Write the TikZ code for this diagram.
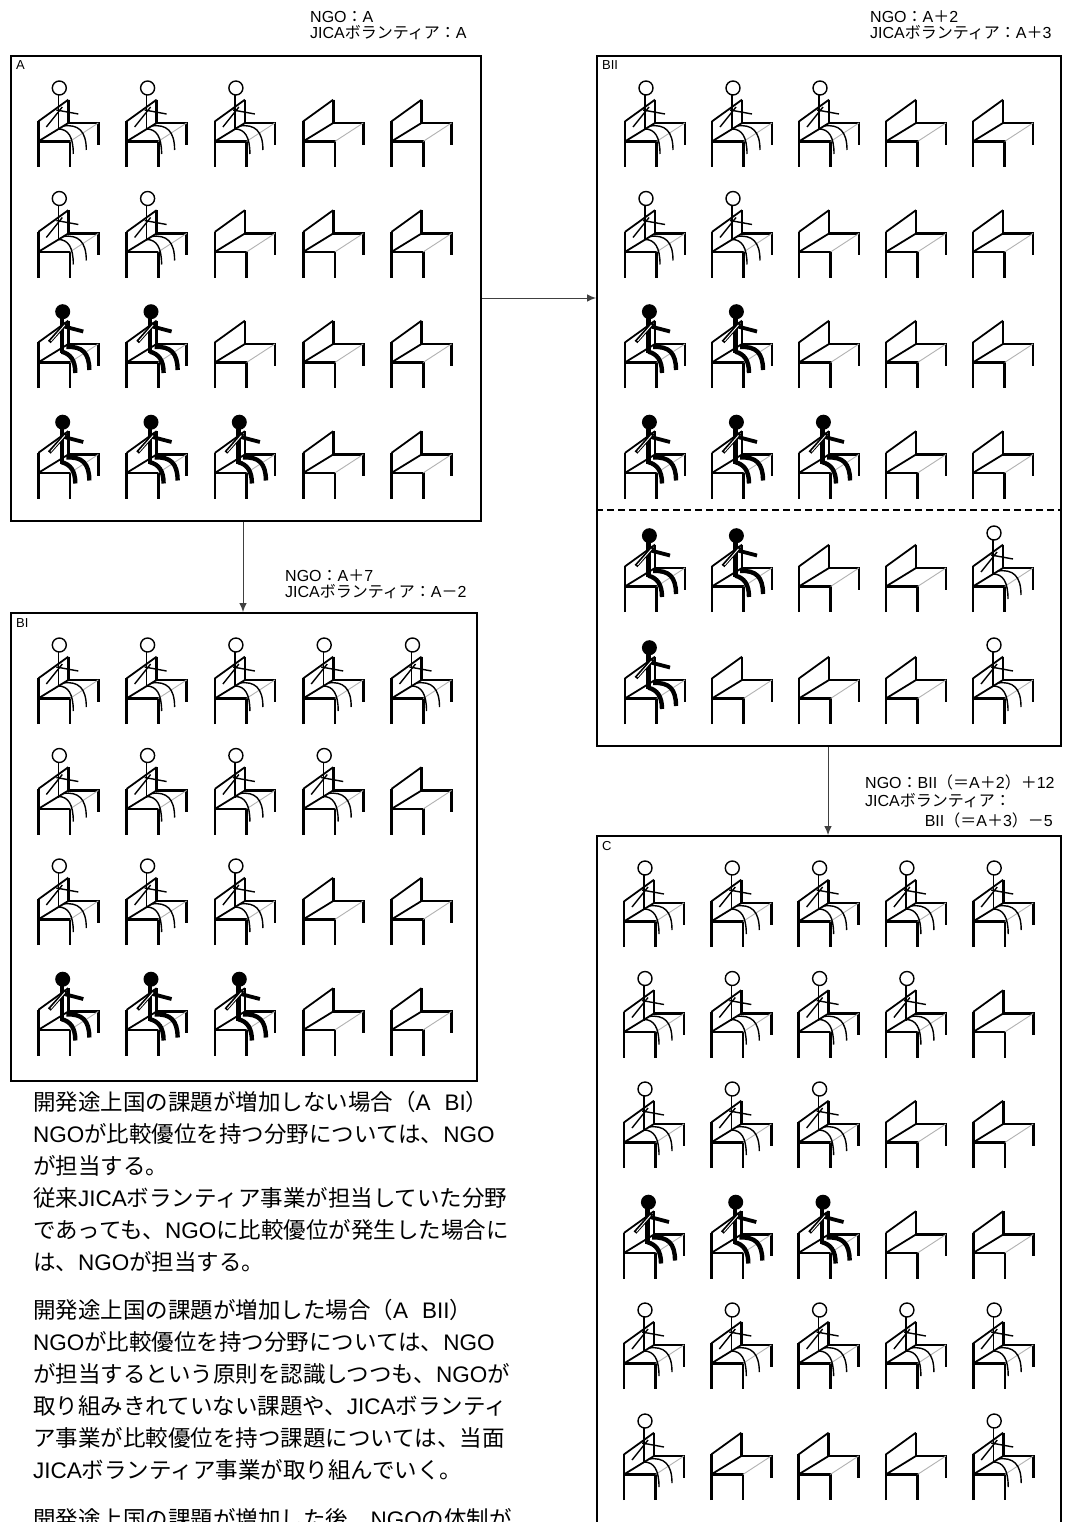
\documentclass[tikz,border=0pt]{standalone}
\usepackage{fontspec}
\setmainfont{Noto Sans CJK JP}
\newfontfamily\latf{Liberation Sans}
\newcommand\lt[1]{{\latf #1}}
\usetikzlibrary{arrows.meta}

\tikzset{
  stout/.style={line width=2.6pt},
  slant/.style={line width=1.8pt},
  seatedge/.style={line width=0.9pt, draw=black!30},
  figline/.style={line width=1.4pt},
  boldline/.style={line width=4.4pt},
  box/.style={draw, line width=2pt, inner sep=0pt, anchor=north west},
  arr/.style={line width=0.9pt, draw=black!75, -{Latex[length=9pt,width=7.5pt]}},
  dashline/.style={line width=2.8pt, dash pattern=on 7pt off 4pt},
  tag/.style={font=\latf\fontsize{13}{15}\selectfont, inner sep=0pt, anchor=base west},
  note/.style={font=\fontsize{16}{18}\selectfont, inner sep=0pt, anchor=base west},
  body/.style={font=\fontsize{22.5}{30}\selectfont, inner sep=0pt, anchor=base west},
  % empty chair, origin at the bottom of the left leg
  pics/seate/.style={code={
    \draw[stout] (0,0) -- (0,-45.6);
    \draw[slant] (0,-45.6) -- (30,-67.3);
    \draw[stout] (30,-67.3) -- (30,-44) -- (60,-44) -- (60,-22.3);
    \draw[slant] (0,-25.6) -- (30,-44);
    \draw[stout] (0,-25.6) -- (31.7,-25.6) -- (31.7,0);
    \draw[seatedge] (31.7,-25.6) -- (60,-44);
  }},
  % chair with an outlined sitter
  pics/seatw/.style={code={
    \pic {seate};
    \draw[figline] (20,-72) -- (20,-37);
    \draw[figline] (18,-57) -- (40,-53);
    \draw[figline] (8,-40) -- (24,-60);
    \draw[figline] (20,-38) .. controls (30,-38) and (35,-30) .. (35,-13);
    \draw[figline] (25,-41) .. controls (40,-43) and (48,-36) .. (48,-17);
    \draw[figline, fill=white] (21,-79) circle[radius=7];
  }},
  % chair with a solid sitter
  pics/seatk/.style={code={
    \pic {seate};
    \draw[boldline] (23.4,-71) -- (23.4,-35);
    \draw[line width=3.8pt] (24,-62) -- (45,-56.5);
    \draw[line width=3.6pt] (11,-46) -- (28,-65);
    \draw[line width=0.9pt, white] (12.5,-47) -- (26.5,-63);
    \draw[boldline] (23.4,-36.3) .. controls (32,-34) and (37,-28) .. (37,-15);
    \draw[boldline] (28,-41) .. controls (44,-42) and (51,-35) .. (51,-18);
    \fill (24.4,-76.3) circle[radius=7.5];
  }}
}

% one row of five seats: left x, pitch, bottom y, kinds
\newcommand\seatrow[4]{%
  \foreach \kind [count=\ci from 0] in {#4} {\pic at ({#1+\ci*#2},#3) {seat\kind};}}

\begin{document}
\begin{tikzpicture}[x=1pt,y=-1pt]
\path[use as bounding box] (0,0) rectangle (1066,1522);
\clip (0,0) rectangle (1066,1522);
\fill[white] (0,0) rectangle (1066,1522);

% frames
\node[box, minimum width=470pt, minimum height=465pt] (boxA) at (10,55) {};
\node[box, minimum width=466pt, minimum height=468pt] (boxBI) at (10,612) {};
\node[box, minimum width=464pt, minimum height=690pt] (boxBII) at (596,55) {};
\node[box, minimum width=464pt, minimum height=720pt] (boxC) at (596,835) {};

\node[tag] (tagA) at (16,70) {A};
\node[tag] (tagBI) at (16,627) {BI};
\node[tag] (tagBII) at (602,70) {BII};
\node[tag] (tagC) at (602,850) {C};

% seats of A
\seatrow{38.3}{88.3}{167}{w,w,w,e,e}
\seatrow{38.3}{88.3}{277.5}{w,w,e,e,e}
\seatrow{38.3}{88.3}{388}{k,k,e,e,e}
\seatrow{38.3}{88.3}{498.5}{k,k,k,e,e}

% seats of BI
\seatrow{38.3}{88.3}{724}{w,w,w,w,w}
\seatrow{38.3}{88.3}{834.5}{w,w,w,w,e}
\seatrow{38.3}{88.3}{945}{w,w,w,e,e}
\seatrow{38.3}{88.3}{1055.5}{k,k,k,e,e}

% seats of BII
\seatrow{625}{87}{167}{w,w,w,e,e}
\seatrow{625}{87}{277.5}{w,w,e,e,e}
\seatrow{625}{87}{388}{k,k,e,e,e}
\seatrow{625}{87}{498.5}{k,k,k,e,e}
\seatrow{625}{87}{612}{k,k,e,e,w}
\seatrow{625}{87}{724}{k,e,e,e,w}

\coordinate (divy) at (0,510);
\draw[dashline] (boxBII.west |- divy) -- (boxBII.east |- divy);

% seats of C
\seatrow{624}{87.3}{947}{w,w,w,w,w}
\seatrow{624}{87.3}{1057.5}{w,w,w,w,e}
\seatrow{624}{87.3}{1168}{w,w,w,e,e}
\seatrow{624}{87.3}{1278.5}{k,k,k,e,e}
\seatrow{624}{87.3}{1389}{w,w,w,w,w}
\seatrow{624}{87.3}{1500}{w,e,e,e,w}

% connectors
\coordinate (rowAB) at (0,298);
\coordinate (colA) at (243,0);
\coordinate (colB) at (828,0);
\draw[arr] (boxA.east |- rowAB) -- (boxBII.west |- rowAB);
\draw[arr] (boxA.south -| colA) -- (boxBI.north -| colA);
\draw[arr] (boxBII.south -| colB) -- (boxC.north -| colB);

% counts
\node[note] (nA1) at (310,23) {\lt{NGO}：\lt{A}};
\node[note] (nA2) at (310,38.5) {\lt{JICA}ボランティア：\lt{A}};
\node[note] (nB1) at (870,23) {\lt{NGO}：\lt{A}＋\lt{2}};
\node[note] (nB2) at (870,38.5) {\lt{JICA}ボランティア：\lt{A}＋\lt{3}};
\node[note] (nI1) at (285,581) {\lt{NGO}：\lt{A}＋\lt{7}};
\node[note] (nI2) at (285,597) {\lt{JICA}ボランティア：\lt{A}－\lt{2}};
\node[note] (nC1) at (865,788) {\lt{NGO}：\lt{BII}（＝\lt{A}＋\lt{2}）＋\lt{12}};
\node[note] (nC2) at (865,806) {\lt{JICA}ボランティア：};
\node[note, anchor=base east] (nC3) at (1053,826) {\lt{BII}（＝\lt{A}＋\lt{3}）－\lt{5}};

% explanation
\node[body] (p1a) at (33,1110.5) {開発途上国の課題が増加しない場合（\lt{A}\hspace{14pt}\lt{BI}）};
\node[body] (p1b) at (33,1142.5) {\lt{NGO}が比較優位を持つ分野については、\lt{NGO}};
\node[body] (p1c) at (33,1174.5) {が担当する。};
\node[body] (p1d) at (33,1206.5) {従来\lt{JICA}ボランティア事業が担当していた分野};
\node[body] (p1e) at (33,1238.5) {であっても、\lt{NGO}に比較優位が発生した場合に};
\node[body] (p1f) at (33,1270.5) {は、\lt{NGO}が担当する。};
\node[body] (p2a) at (33,1318.5) {開発途上国の課題が増加した場合（\lt{A}\hspace{14pt}\lt{BII}）};
\node[body] (p2b) at (33,1350.5) {\lt{NGO}が比較優位を持つ分野については、\lt{NGO}};
\node[body] (p2c) at (33,1382.5) {が担当するという原則を認識しつつも、\lt{NGO}が};
\node[body] (p2d) at (33,1414.5) {取り組みきれていない課題や、\lt{JICA}ボランティ};
\node[body] (p2e) at (33,1446.5) {ア事業が比較優位を持つ課題については、当面};
\node[body] (p2f) at (33,1478.5) {\lt{JICA}ボランティア事業が取り組んでいく。};
\node[body] (p3a) at (33,1527.5) {開発途上国の課題が増加した後、\lt{NGO}の体制が};
\end{tikzpicture}
\end{document}
